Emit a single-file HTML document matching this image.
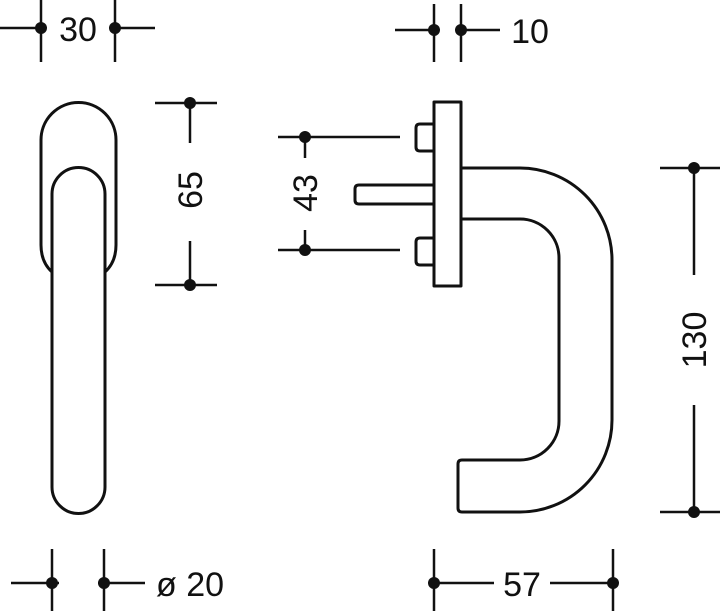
<!DOCTYPE html>
<html><head><style>
html,body{margin:0;padding:0;background:#fff;}
svg{display:block;}
text{font-family:"Liberation Sans",sans-serif;font-size:34px;fill:#111;}
</style></head><body>
<svg width="720" height="611" viewBox="0 0 720 611" xmlns="http://www.w3.org/2000/svg">
<g fill="none" stroke="#111" stroke-width="3" stroke-linejoin="round">
<path d="M52,272 Q41,262 41,245 L41,140 A37.5,37.5 0 0 1 116,140 L116,245 Q116,262 105,272"/>
<path d="M52,194 A26.5,26.5 0 0 1 105,194 L105,487 A26.5,26.5 0 0 1 52,487 Z"/>
<rect x="434" y="102" width="27" height="184"/>
<path d="M434,124 L420,124 Q416,124 416,128 L416,147 Q416,151 420,151 L434,151"/>
<path d="M434,238 L420,238 Q416,238 416,242 L416,261 Q416,265 420,265 L434,265"/>
<path d="M434,185 L359,185 Q355,185 355,189 L355,200 Q355,204 359,204 L434,204"/>
<path d="M461,168 L520,168 A92,92 0 0 1 612,260 L612,420 A92,92 0 0 1 520,512 L462,512 Q458,512 458,508 L458,464 Q458,460 462,460 L520,460 A39,39 0 0 0 559,421 L559,258 A39,39 0 0 0 520,219 L461,219"/>
</g>
<g stroke="#111" stroke-width="2.5" fill="none">
<line x1="0" y1="28" x2="41" y2="28"/><line x1="115" y1="28" x2="155" y2="28"/>
<line x1="41" y1="0" x2="41" y2="62"/><line x1="115" y1="0" x2="115" y2="62"/>
<line x1="155" y1="103" x2="217" y2="103"/><line x1="155" y1="285" x2="217" y2="285"/>
<line x1="190" y1="103" x2="190" y2="143"/><line x1="190" y1="241" x2="190" y2="285"/>
<line x1="11" y1="583" x2="59" y2="583"/><line x1="98" y1="583" x2="145" y2="583"/>
<line x1="52" y1="549" x2="52" y2="611"/><line x1="104" y1="549" x2="104" y2="611"/>
<line x1="395" y1="30" x2="434" y2="30"/><line x1="461" y1="30" x2="500" y2="30"/>
<line x1="434" y1="4" x2="434" y2="62"/><line x1="461" y1="4" x2="461" y2="62"/>
<line x1="278" y1="137" x2="400" y2="137"/><line x1="278" y1="250" x2="400" y2="250"/>
<line x1="305" y1="137" x2="305" y2="158"/><line x1="305" y1="230" x2="305" y2="250"/>
<line x1="660" y1="168" x2="720" y2="168"/><line x1="660" y1="512" x2="720" y2="512"/>
<line x1="694" y1="168" x2="694" y2="275"/><line x1="694" y1="405" x2="694" y2="512"/>
<line x1="434" y1="583" x2="494" y2="583"/><line x1="550" y1="583" x2="613" y2="583"/>
<line x1="434" y1="549" x2="434" y2="611"/><line x1="613" y1="549" x2="613" y2="611"/>
</g>
<g fill="#111">
<circle cx="41" cy="28" r="6"/><circle cx="115" cy="28" r="6"/>
<circle cx="190" cy="103" r="6"/><circle cx="190" cy="285" r="6"/>
<circle cx="52" cy="583" r="6"/><circle cx="104" cy="583" r="6"/>
<circle cx="434" cy="30" r="6"/><circle cx="461" cy="30" r="6"/>
<circle cx="305" cy="137" r="6"/><circle cx="305" cy="250" r="6"/>
<circle cx="694" cy="168" r="6"/><circle cx="694" cy="512" r="6"/>
<circle cx="434" cy="583" r="6"/><circle cx="613" cy="583" r="6"/>
</g>
<text x="78" y="41" text-anchor="middle">30</text>
<text x="530" y="43" text-anchor="middle">10</text>
<text x="522" y="596" text-anchor="middle">57</text>
<text x="156" y="596">ø 20</text>
<text transform="translate(202,190) rotate(-90)" text-anchor="middle">65</text>
<text transform="translate(317,193) rotate(-90)" text-anchor="middle">43</text>
<text transform="translate(706,340) rotate(-90)" text-anchor="middle">130</text>
</svg>
</body></html>
